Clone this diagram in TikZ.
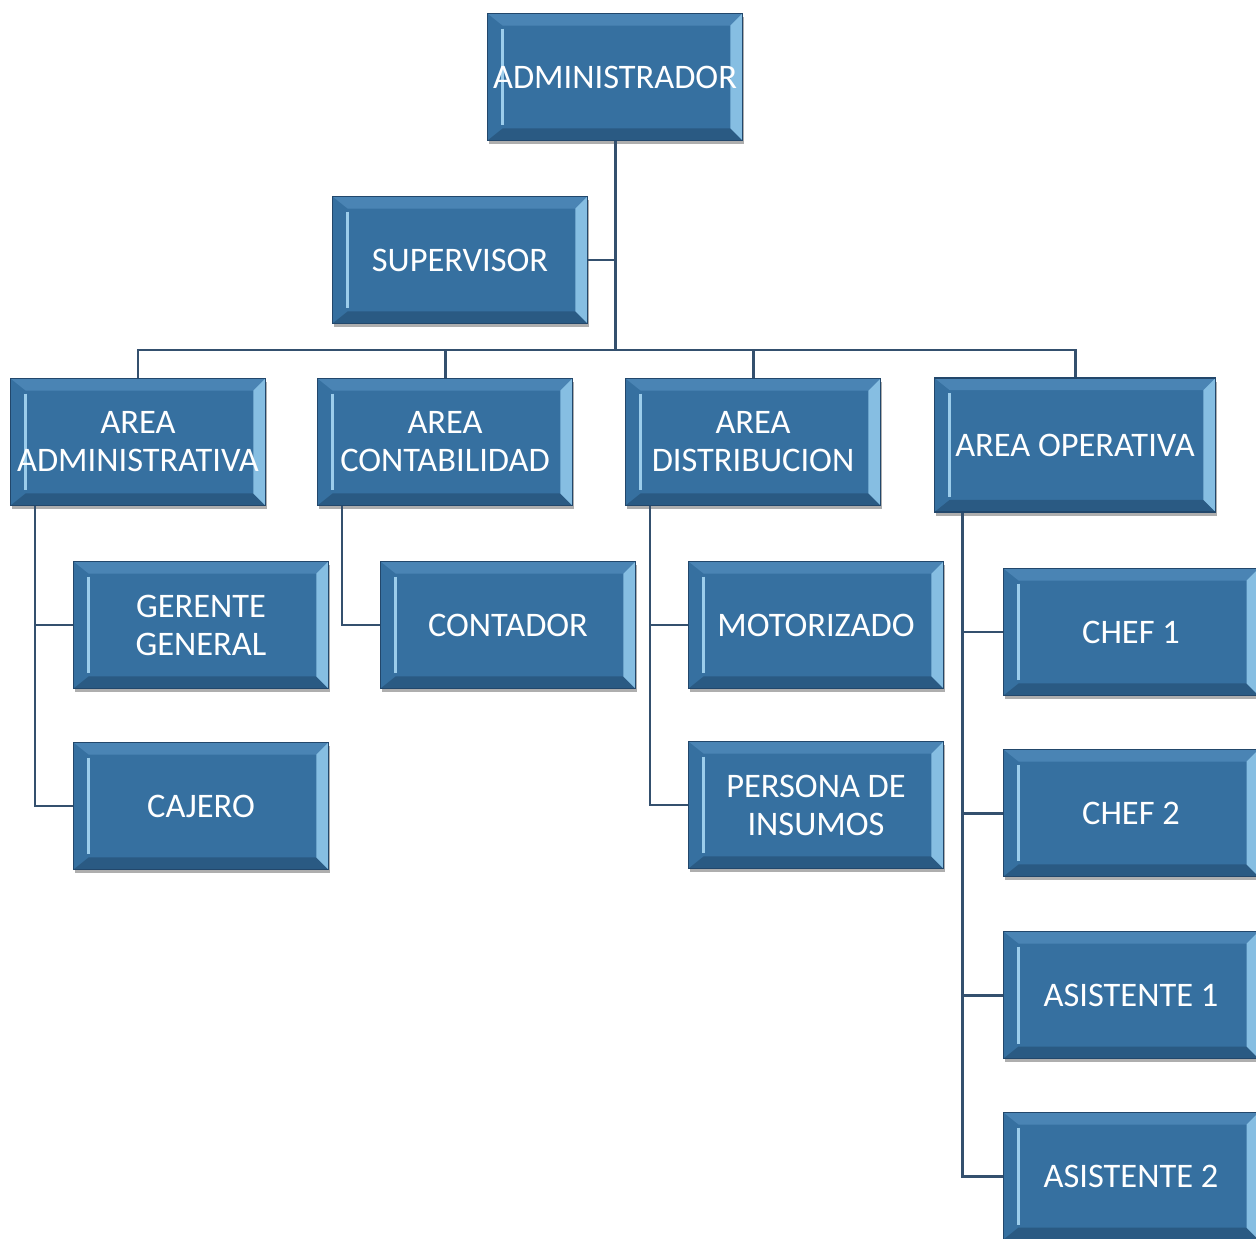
\documentclass[tikz,border=0pt]{standalone}
\usepackage{fontspec}
\setmainfont{Carlito}
\usetikzlibrary{shadows}

\definecolor{cara}{HTML}{3670A0}
\definecolor{borde}{HTML}{22476B}
\definecolor{bvarriba}{HTML}{4A84B4}
\definecolor{bvabajo}{HTML}{2A5A83}
\definecolor{bvder}{HTML}{86BEE2}
\definecolor{bvluz}{HTML}{9CCDEB}
\definecolor{conector}{HTML}{34506E}

\begin{document}
\begin{tikzpicture}[x=0.02cm, y=-0.02cm,
        % Estilos generales
        cargo/.style={
            rectangle, draw=borde, line width=0.6pt, fill=cara,
            text=white, align=center, inner sep=0pt,
            minimum width=5.1cm, minimum height=2.54cm,
            font=\fontsize{19.6}{21.6}\selectfont,
            drop shadow={shadow xshift=0.6pt, shadow yshift=-2pt, opacity=0.45, fill=black!70},
            path picture={
                \fill[bvarriba] (path picture bounding box.north west) -- (path picture bounding box.north east)
                    -- ([shift={(-0.24cm,-0.24cm)}]path picture bounding box.north east)
                    -- ([shift={(0.3cm,-0.24cm)}]path picture bounding box.north west) -- cycle;
                \fill[bvabajo] (path picture bounding box.south west) -- (path picture bounding box.south east)
                    -- ([shift={(-0.24cm,0.24cm)}]path picture bounding box.south east)
                    -- ([shift={(0.3cm,0.24cm)}]path picture bounding box.south west) -- cycle;
                \fill[bvder] (path picture bounding box.north east) -- (path picture bounding box.south east)
                    -- ([shift={(-0.24cm,0.24cm)}]path picture bounding box.south east)
                    -- ([shift={(-0.24cm,-0.24cm)}]path picture bounding box.north east) -- cycle;
                \draw[bvluz, line width=1.4pt] ([shift={(0.3cm,-0.3cm)}]path picture bounding box.north west)
                    -- ([shift={(0.3cm,0.3cm)}]path picture bounding box.south west);
            }
        },
        ancho/.style={minimum width=5.62cm, minimum height=2.68cm},
        linea/.style={draw=conector, line width=1.7pt}
    ]
        % Fondo y marco
        \fill[white] (0,0) rectangle (1256,1239);
        \useasboundingbox (0,0) rectangle (1256,1239);

        % Nodos
        \node[cargo] (admin) at (615,77) {ADMINISTRADOR};
        \node[cargo] (sup) at (460,260) {SUPERVISOR};

        \node[cargo] (aadm) at (138,442) {AREA\\ADMINISTRATIVA};
        \node[cargo] (acon) at (445,442) {AREA\\CONTABILIDAD};
        \node[cargo] (adis) at (753,442) {AREA\\DISTRIBUCION};
        \node[cargo, ancho] (aope) at (1075,445) {AREA OPERATIVA};

        \node[cargo] (ger) at (201,625) {GERENTE\\GENERAL};
        \node[cargo] (caj) at (201,806) {CAJERO};
        \node[cargo] (cont) at (508,625) {CONTADOR};
        \node[cargo] (moto) at (816,625) {MOTORIZADO};
        \node[cargo] (pins) at (816,805) {PERSONA DE\\INSUMOS};

        \node[cargo] (chef1) at (1131,632) {CHEF 1};
        \node[cargo] (chef2) at (1131,813) {CHEF 2};
        \node[cargo] (asis1) at (1131,995) {ASISTENTE 1};
        \node[cargo] (asis2) at (1131,1176) {ASISTENTE 2};

        % Puntos de union
        \coordinate (bus) at (615,350);
        \coordinate (tadm) at ([xshift=0.5cm]aadm.south west);
        \coordinate (tcon) at ([xshift=0.5cm]acon.south west);
        \coordinate (tdis) at ([xshift=0.5cm]adis.south west);
        \coordinate (tope) at ([xshift=0.56cm]aope.south west);

        % Conectores
        \draw[linea] (admin.south) -- (bus);
        \draw[linea] (sup.east) -- (sup.east -| bus);
        \draw[linea] (aadm.north) |- (bus) -| (aope.north);
        \draw[linea] (acon.north) -- (acon.north |- bus);
        \draw[linea] (adis.north) -- (adis.north |- bus);
        \draw[linea] (tadm) |- (caj.west);
        \draw[linea] (ger.west) -- (ger.west -| tadm);
        \draw[linea] (tcon) |- (cont.west);
        \draw[linea] (tdis) |- (pins.west);
        \draw[linea] (moto.west) -- (moto.west -| tdis);
        \draw[linea] (tope) |- (asis2.west);
        \draw[linea] (chef1.west) -- (chef1.west -| tope);
        \draw[linea] (chef2.west) -- (chef2.west -| tope);
        \draw[linea] (asis1.west) -- (asis1.west -| tope);
    \end{tikzpicture}
\end{document}
